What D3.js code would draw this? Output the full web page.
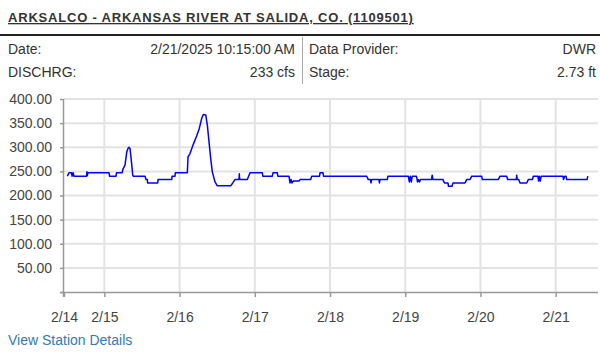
<!DOCTYPE html>
<html lang="en">
<head>
    <meta charset="UTF-8">
    <title>ARKSALCO - Arkansas River at Salida</title>
    <script src="https://d3js.org/d3.v7.min.js"></script>
    <style>
        body {
            margin: 0;
            padding: 0;
            background: #fff;
            font-family: Arial, "Liberation Sans", sans-serif;
        }
        svg { display: block; }
    </style>
</head>
<body>
    <svg id="chart" width="600" height="355"></svg>

    <script>
        const title = "ARKSALCO - ARKANSAS RIVER AT SALIDA, CO. (1109501)";
        const infoLeft = [["Date:", "2/21/2025 10:15:00 AM"], ["DISCHRG:", "233 cfs"]];
        const infoRight = [["Data Provider:", "DWR"], ["Stage:", "2.73 ft"]];

        // discharge readings (cfs)
        const times = [
            "2025-02-14 12:12", "2025-02-14 12:44", "2025-02-14 13:32", "2025-02-14 13:42", "2025-02-14 14:01",
            "2025-02-14 14:20", "2025-02-14 18:20", "2025-02-14 18:27", "2025-02-14 18:35", "2025-02-14 18:44",
            "2025-02-15 01:30", "2025-02-15 01:40", "2025-02-15 03:44", "2025-02-15 03:53", "2025-02-15 05:39",
            "2025-02-15 05:58", "2025-02-15 06:36", "2025-02-15 07:09", "2025-02-15 07:34", "2025-02-15 07:53",
            "2025-02-15 08:12", "2025-02-15 08:25", "2025-02-15 08:44", "2025-02-15 09:04", "2025-02-15 09:15",
            "2025-02-15 12:59", "2025-02-15 13:18", "2025-02-15 13:43", "2025-02-15 13:49", "2025-02-15 17:02",
            "2025-02-15 17:08", "2025-02-15 21:30", "2025-02-15 21:36", "2025-02-15 22:33", "2025-02-15 22:39",
            "2025-02-16 02:29", "2025-02-16 02:42", "2025-02-16 03:20", "2025-02-16 04:23", "2025-02-16 05:29",
            "2025-02-16 06:18", "2025-02-16 07:04", "2025-02-16 07:35", "2025-02-16 08:21", "2025-02-16 08:52",
            "2025-02-16 09:24", "2025-02-16 09:56", "2025-02-16 10:27", "2025-02-16 11:19", "2025-02-16 12:03",
            "2025-02-16 16:19", "2025-02-16 16:58", "2025-02-16 17:41", "2025-02-16 18:58", "2025-02-16 19:04",
            "2025-02-16 19:10", "2025-02-16 21:37", "2025-02-16 22:29", "2025-02-17 02:24", "2025-02-17 02:34",
            "2025-02-17 05:35", "2025-02-17 05:49", "2025-02-17 07:11", "2025-02-17 07:21", "2025-02-17 10:55",
            "2025-02-17 11:14", "2025-02-17 11:34", "2025-02-17 11:53", "2025-02-17 12:17", "2025-02-17 14:07",
            "2025-02-17 14:26", "2025-02-17 17:50", "2025-02-17 18:10", "2025-02-17 20:39", "2025-02-17 20:49",
            "2025-02-17 21:46", "2025-02-17 21:56", "2025-02-18 11:43", "2025-02-18 12:13", "2025-02-18 12:55",
            "2025-02-18 13:05", "2025-02-18 13:16", "2025-02-18 15:38", "2025-02-18 15:46", "2025-02-18 15:57",
            "2025-02-18 18:17", "2025-02-18 18:30", "2025-02-19 00:59", "2025-02-19 01:18", "2025-02-19 01:37",
            "2025-02-19 01:56", "2025-02-19 02:15", "2025-02-19 03:35", "2025-02-19 03:55", "2025-02-19 04:14",
            "2025-02-19 04:33", "2025-02-19 04:52", "2025-02-19 08:23", "2025-02-19 08:36", "2025-02-19 08:51",
            "2025-02-19 12:03", "2025-02-19 12:31", "2025-02-19 13:38", "2025-02-19 13:48", "2025-02-19 14:55",
            "2025-02-19 15:14", "2025-02-19 19:04", "2025-02-19 19:37", "2025-02-19 20:40", "2025-02-19 21:12",
            "2025-02-20 00:23", "2025-02-20 00:35", "2025-02-20 05:41", "2025-02-20 06:14", "2025-02-20 08:22",
            "2025-02-20 08:41", "2025-02-20 11:26", "2025-02-20 11:34", "2025-02-20 11:43", "2025-02-20 12:12",
            "2025-02-20 12:37", "2025-02-20 14:45", "2025-02-20 15:16", "2025-02-20 16:36", "2025-02-20 16:51",
            "2025-02-20 18:21", "2025-02-20 18:31", "2025-02-20 18:46", "2025-02-20 19:05", "2025-02-20 19:22",
            "2025-02-21 02:20", "2025-02-21 02:29", "2025-02-21 02:52", "2025-02-21 03:17", "2025-02-21 03:31",
            "2025-02-21 10:00", "2025-02-21 10:15"
        ];
        const flow = [
            240, 247, 247, 240, 247,
            240, 240, 249, 241, 247,
            247, 240, 240, 247, 247,
            255, 263, 290, 298, 300,
            297, 284, 265, 242, 240,
            240, 233, 233, 226, 226,
            233, 233, 240, 240, 247,
            247, 280, 287, 306, 324,
            339, 360, 368, 367, 346,
            311, 277, 249, 228, 220,
            220, 226, 233, 233, 245,
            233, 233, 247, 247, 240,
            240, 247, 247, 240, 240,
            226, 233, 226, 230, 230,
            233, 233, 240, 240, 247,
            247, 240, 240, 233, 233,
            226, 233, 233, 226, 233,
            233, 240, 240, 228, 240,
            228, 240, 240, 228, 233,
            228, 233, 233, 242, 233,
            233, 226, 226, 219, 219,
            226, 226, 233, 233, 240,
            240, 233, 233, 240, 240,
            233, 233, 242, 233, 233,
            226, 226, 233, 233, 240,
            240, 230, 240, 230, 240,
            240, 233, 240, 240, 233,
            233, 240
        ];
        const yTicks = [0, 50, 100, 150, 200, 250, 300, 350, 400];
        const xStart = "2025-02-14 11:08";
        const xEnd = "2025-02-21 13:30";

        const parse = d3.timeParse("%Y-%m-%d %H:%M");
        const data = times.map((t, i) => ({ t: parse(t), v: flow[i] }));

        const svg = d3.select("#chart");
        const textColor = "#333";

        // header
        svg.append("text")
            .attr("x", 8).attr("y", 22)
            .attr("font-size", 13).attr("font-weight", "bold")
            .attr("letter-spacing", 0.8)
            .attr("fill", textColor)
            .attr("text-decoration", "underline")
            .text(title);

        svg.append("line")
            .attr("x1", 0).attr("x2", 600).attr("y1", 35).attr("y2", 35)
            .attr("stroke", "#222").attr("stroke-width", 2);

        svg.append("line")
            .attr("x1", 302.5).attr("x2", 302.5).attr("y1", 37).attr("y2", 84)
            .attr("stroke", "#aaa").attr("stroke-width", 1);

        function infoBlock(rows, x0, x1) {
            rows.forEach((r, i) => {
                const yy = 54 + i * 23;
                svg.append("text").attr("x", x0).attr("y", yy)
                    .attr("font-size", 14).attr("fill", textColor).text(r[0]);
                svg.append("text").attr("x", x1).attr("y", yy)
                    .attr("font-size", 14).attr("fill", textColor)
                    .attr("text-anchor", "end").text(r[1]);
            });
        }
        infoBlock(infoLeft, 8, 295);
        infoBlock(infoRight, 309, 596);

        // chart area
        const plotLeft = 64, plotRight = 598, plotTop = 99, plotBottom = 292;

        const x = d3.scaleTime()
            .domain([parse(xStart), parse(xEnd)])
            .range([plotLeft, plotRight]);

        const y = d3.scaleLinear()
            .domain([0, 400])
            .range([plotBottom, plotTop]);

        const dayTicks = [parse(xStart)].concat(d3.timeDay.range(parse("2025-02-15 00:00"), parse(xEnd)));

        // grid
        svg.append("g")
            .selectAll("line")
            .data(yTicks.filter(d => d > 0))
            .enter().append("line")
            .attr("x1", plotLeft).attr("x2", plotRight)
            .attr("y1", d => y(d)).attr("y2", d => y(d))
            .attr("stroke", "#e3e3e3").attr("stroke-width", 2);

        svg.append("g")
            .selectAll("line")
            .data(dayTicks.slice(1))
            .enter().append("line")
            .attr("x1", d => x(d)).attr("x2", d => x(d))
            .attr("y1", plotTop).attr("y2", plotBottom)
            .attr("stroke", "#e3e3e3").attr("stroke-width", 2);

        // axes
        const yAxis = svg.append("g")
            .attr("transform", `translate(${plotLeft},0)`)
            .call(d3.axisLeft(y).tickValues(yTicks).tickSize(4).tickPadding(8)
                .tickFormat(d => d === 0 ? "" : d3.format(".2f")(d)));

        const xAxis = svg.append("g")
            .attr("transform", `translate(0,${plotBottom})`)
            .call(d3.axisBottom(x).tickValues(dayTicks).tickSize(5).tickPadding(15)
                .tickFormat(d3.timeFormat("%-m/%-d")));

        [yAxis, xAxis].forEach(a => {
            a.select(".domain").attr("stroke", "#999").attr("stroke-width", 1.5);
            a.selectAll(".tick line").attr("stroke", "#999").attr("stroke-width", 1.5);
            a.selectAll(".tick text")
                .attr("font-size", 14)
                .attr("font-family", "Arial, 'Liberation Sans', sans-serif")
                .attr("fill", "#444");
        });
        xAxis.select(".domain").attr("d", `M${plotLeft - 4},0.5H${plotRight}`);
        yAxis.select(".domain").attr("d", `M-0.5,${plotTop}V${plotBottom + 5}`);

        // discharge line
        const line = d3.line()
            .x(d => x(d.t))
            .y(d => y(d.v));

        svg.append("path")
            .datum(data)
            .attr("fill", "none")
            .attr("stroke", "#0000ff")
            .attr("stroke-width", 1.5)
            .attr("stroke-linejoin", "round")
            .attr("d", line);

        // link
        svg.append("text")
            .attr("x", 8).attr("y", 345)
            .attr("font-size", 14)
            .attr("fill", "#337ab7")
            .text("View Station Details");
    </script>
</body>
</html>
